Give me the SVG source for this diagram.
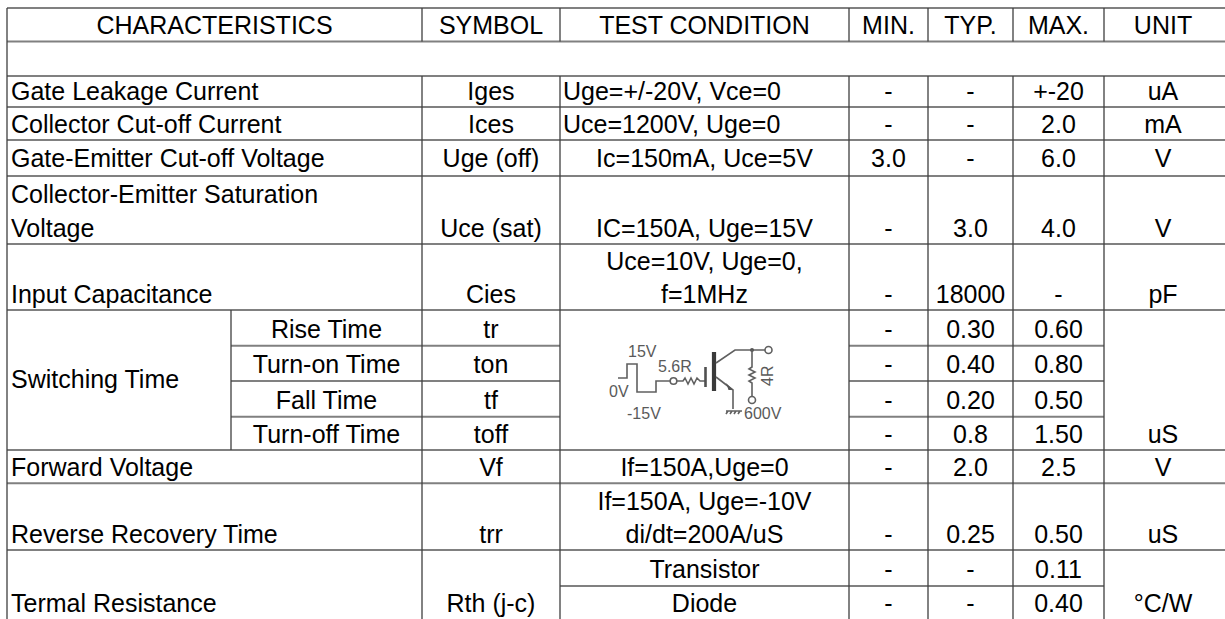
<svg xmlns="http://www.w3.org/2000/svg" width="1225" height="619" viewBox="0 0 1225 619">
<style>
text{font-family:"Liberation Sans",Arial,sans-serif;font-size:25px;fill:#000}
.c{text-anchor:middle}
.h{stroke:#808080;stroke-width:2;fill:none}
.v{stroke:#404040;stroke-width:1.3;fill:none}
.ck{stroke:#606060;stroke-width:1.6;fill:none}
.ct{font-size:16px;fill:#5a5a5a}
</style>
<rect width="1225" height="619" fill="#fff"/>
<g id="grid">
<path class="h" d="M7 8H1225M7 41.5H1225M7 76H1225M7 107H1225M7 140H1225M7 176H1225M7 244H1225M7 310H1225M231 345.7H560M849 345.7H1104M231 381H560M849 381H1104M231 416.7H560M849 416.7H1104M7 450H1225M7 483.3H1225M7 550H1225M560 586H1104"/>
<path class="v" d="M7 8V619M422 8V41.5M422 76V619M231 310V450M560 8V41.5M560 76V619M849 8V41.5M849 76V619M928 8V41.5M928 76V619M1013 8V41.5M1013 76V619M1104 8V41.5M1104 76V619"/>
</g>
<g id="header">
<text class="c" x="214.5" y="34">CHARACTERISTICS</text>
<text class="c" x="491" y="34">SYMBOL</text>
<text class="c" x="704.5" y="34">TEST CONDITION</text>
<text class="c" x="888.5" y="34">MIN.</text>
<text class="c" x="970.5" y="34">TYP.</text>
<text class="c" x="1058.5" y="34">MAX.</text>
<text class="c" x="1163" y="34">UNIT</text>
</g>
<g id="row-iges">
<text x="11" y="100">Gate Leakage Current</text>
<text class="c" x="491" y="100">Iges</text>
<text x="563" y="100">Uge=+/-20V, Vce=0</text>
<text class="c" x="888.5" y="100">-</text>
<text class="c" x="970.5" y="100">-</text>
<text class="c" x="1058.5" y="100">+-20</text>
<text class="c" x="1163" y="100">uA</text>
</g>
<g id="row-ices">
<text x="11" y="132.5">Collector Cut-off Current</text>
<text class="c" x="491" y="132.5">Ices</text>
<text x="563" y="132.5">Uce=1200V, Uge=0</text>
<text class="c" x="888.5" y="132.5">-</text>
<text class="c" x="970.5" y="132.5">-</text>
<text class="c" x="1058.5" y="132.5">2.0</text>
<text class="c" x="1163" y="132.5">mA</text>
</g>
<g id="row-ugeoff">
<text x="11" y="167">Gate-Emitter Cut-off Voltage</text>
<text class="c" x="491" y="167">Uge (off)</text>
<text class="c" x="704.5" y="167">Ic=150mA, Uce=5V</text>
<text class="c" x="888.5" y="167">3.0</text>
<text class="c" x="970.5" y="167">-</text>
<text class="c" x="1058.5" y="167">6.0</text>
<text class="c" x="1163" y="167">V</text>
</g>
<g id="row-ucesat">
<text x="11" y="203">Collector-Emitter Saturation</text>
<text x="11" y="237">Voltage</text>
<text class="c" x="491" y="237">Uce (sat)</text>
<text class="c" x="704.5" y="237">IC=150A, Uge=15V</text>
<text class="c" x="888.5" y="237">-</text>
<text class="c" x="970.5" y="237">3.0</text>
<text class="c" x="1058.5" y="237">4.0</text>
<text class="c" x="1163" y="237">V</text>
</g>
<g id="row-cies">
<text x="11" y="303">Input Capacitance</text>
<text class="c" x="491" y="303">Cies</text>
<text class="c" x="704.5" y="270">Uce=10V, Uge=0,</text>
<text class="c" x="704.5" y="303">f=1MHz</text>
<text class="c" x="888.5" y="303">-</text>
<text class="c" x="970.5" y="303">18000</text>
<text class="c" x="1058.5" y="303">-</text>
<text class="c" x="1163" y="303">pF</text>
</g>
<g id="row-switching">
<text x="11" y="388">Switching Time</text>
<text class="c" x="326.5" y="338">Rise Time</text>
<text class="c" x="491" y="338">tr</text>
<text class="c" x="888.5" y="338">-</text>
<text class="c" x="970.5" y="338">0.30</text>
<text class="c" x="1058.5" y="338">0.60</text>
<text class="c" x="326.5" y="373">Turn-on Time</text>
<text class="c" x="491" y="373">ton</text>
<text class="c" x="888.5" y="373">-</text>
<text class="c" x="970.5" y="373">0.40</text>
<text class="c" x="1058.5" y="373">0.80</text>
<text class="c" x="326.5" y="409">Fall Time</text>
<text class="c" x="491" y="409">tf</text>
<text class="c" x="888.5" y="409">-</text>
<text class="c" x="970.5" y="409">0.20</text>
<text class="c" x="1058.5" y="409">0.50</text>
<text class="c" x="326.5" y="443">Turn-off Time</text>
<text class="c" x="491" y="443">toff</text>
<text class="c" x="888.5" y="443">-</text>
<text class="c" x="970.5" y="443">0.8</text>
<text class="c" x="1058.5" y="443">1.50</text>
<text class="c" x="1163" y="443">uS</text>
</g>
<g id="circuit">
<path class="ck" d="M618 378H627V364H637V392H656V381H670"/>
<circle class="ck" cx="673.5" cy="381" r="3.3"/>
<path class="ck" d="M677 381H683L685 378L688 384L691 378L694 384L697 378L700 381H705"/>
<path d="M705.5 367V387" stroke="#505050" stroke-width="2.6"/>
<path d="M714 352V391" stroke="#3a3a3a" stroke-width="4.2"/>
<path class="ck" d="M716 363L735 350H765"/>
<circle class="ck" cx="768.5" cy="350" r="3.5"/>
<circle cx="752" cy="350" r="2" fill="#555"/>
<path class="ck" d="M752 350V367L749 369L755 372L749 375L755 378L749 381L752 383V396.5"/>
<circle class="ck" cx="752" cy="400" r="3.5"/>
<path class="ck" d="M716 377L733 390V409"/>
<path d="M733 390L726 383L728.5 390Z" fill="#555"/>
<path class="ck" d="M726 411H742M728 411L726 414M732 411L730 414M736 411L734 414M740 411L738 414"/>
<text class="ct" x="628" y="357">15V</text>
<text class="ct" x="658" y="372">5.6R</text>
<text class="ct" x="609" y="397">0V</text>
<text class="ct" x="627" y="419">-15V</text>
<text class="ct" x="744" y="419">600V</text>
<text class="ct" transform="translate(773 386) rotate(-90)">4R</text>
</g>
<g id="row-vf">
<text x="11" y="476">Forward Voltage</text>
<text class="c" x="491" y="476">Vf</text>
<text class="c" x="704.5" y="476">If=150A,Uge=0</text>
<text class="c" x="888.5" y="476">-</text>
<text class="c" x="970.5" y="476">2.0</text>
<text class="c" x="1058.5" y="476">2.5</text>
<text class="c" x="1163" y="476">V</text>
</g>
<g id="row-trr">
<text x="11" y="543">Reverse Recovery Time</text>
<text class="c" x="491" y="543">trr</text>
<text class="c" x="704.5" y="510">If=150A, Uge=-10V</text>
<text class="c" x="704.5" y="543">di/dt=200A/uS</text>
<text class="c" x="888.5" y="543">-</text>
<text class="c" x="970.5" y="543">0.25</text>
<text class="c" x="1058.5" y="543">0.50</text>
<text class="c" x="1163" y="543">uS</text>
</g>
<g id="row-rth">
<text x="11" y="612">Termal Resistance</text>
<text class="c" x="491" y="612">Rth (j-c)</text>
<text class="c" x="704.5" y="578">Transistor</text>
<text class="c" x="888.5" y="578">-</text>
<text class="c" x="970.5" y="578">-</text>
<text class="c" x="1058.5" y="578">0.11</text>
<text class="c" x="704.5" y="612">Diode</text>
<text class="c" x="888.5" y="612">-</text>
<text class="c" x="970.5" y="612">-</text>
<text class="c" x="1058.5" y="612">0.40</text>
<text class="c" x="1163" y="612">°C/W</text>
</g>
</svg>
